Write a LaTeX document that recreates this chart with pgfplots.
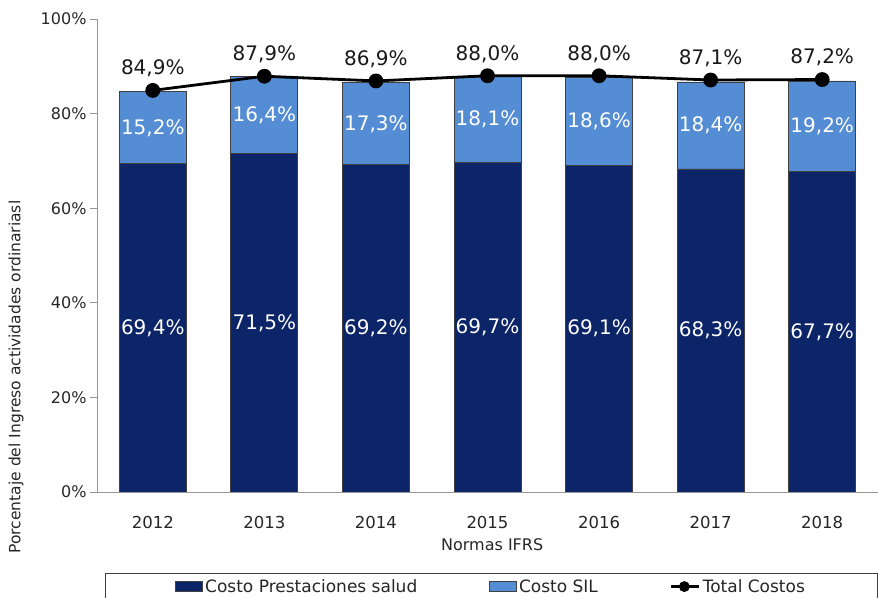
\documentclass[border=0pt]{standalone}
\usepackage{fontspec}
\setmainfont{DejaVu Sans}
\usepackage{pgfplots}
\usepackage{pgfplotstable}
\pgfplotsset{compat=1.18}
\definecolor{darkbar}{RGB}{12,36,104}
\definecolor{lightbar}{RGB}{84,141,212}
\definecolor{axgray}{RGB}{150,150,150}
\pgfplotstableread{
x p s t
0 69.4 15.2 84.9
1 71.5 16.4 87.9
2 69.2 17.3 86.9
3 69.7 18.1 88.0
4 69.1 18.6 88.0
5 68.3 18.4 87.1
6 67.7 19.2 87.2
}\datatable
\pgfplotsset{
  /pgf/number format/assume math mode=true,
  common/.style={scale only axis, width=781pt, height=473pt,
    at={(97pt,105pt)}, anchor=south west,
    xmin=-0.5, xmax=6.5, ymin=0, ymax=100},
  pctlabel/.style={nodes near coords={\pgfmathprintnumber[fixed,fixed zerofill,precision=1,use comma]{\pgfplotspointmeta}\%},
    point meta=explicit},
  barlegend/.style={legend image code/.code={\draw[##1] (0pt,-5pt) rectangle (27pt,5pt);}},
  linelegend/.style={legend image code/.code={\draw[black, line width=2.8pt] (0pt,0pt) -- (28pt,0pt); \fill[black] (13pt,0pt) circle (5pt);}},
}
\begin{document}
\begin{tikzpicture}
\path[use as bounding box] (0,0) rectangle (878pt,597pt);
\begin{axis}[common,
  ybar stacked, bar width=67pt,
  axis x line*=bottom, axis y line*=left,
  axis line style={axgray, line width=0.8pt},
  ytick={0,20,...,100},
  yticklabel={\pgfmathprintnumber{\tick}\%},
  y tick label style={font=\fontsize{16}{18}\selectfont, color=black!85},
  ytick style={draw=axgray, line width=0.8pt},
  tick align=outside, major tick length=7pt,
  xtick={0,...,6},
  xticklabels={2012,2013,2014,2015,2016,2017,2018},
  xtick style={draw=none},
  x tick label style={font=\fontsize{16.5}{18}\selectfont, color=black!85, anchor=center, yshift=-23pt},
  extra x ticks={0.5,1.5,2.5,3.5,4.5,5.5},
  extra x tick labels={},
  extra x tick style={major tick length=33pt, tick style={draw=axgray, line width=0.8pt}},
  xlabel={Normas IFRS},
  xlabel style={at={(axis description cs:0.506,0)}, anchor=center, yshift=-53pt, font=\fontsize{16}{18}\selectfont, color=black!85},
  ylabel={Porcentaje del Ingreso actividades ordinariasl},
  ylabel style={at={(axis description cs:-0.1037,0.243)}, anchor=center, font=\fontsize{15.5}{17}\selectfont, color=black!85},
  legend style={at={(axis description cs:0.01024,-0.1712)}, anchor=north west,
    legend columns=3, draw=black!75, line width=0.8pt,
    font=\fontsize{17}{19}\selectfont, text=black!85,
    inner xsep=70pt, inner ysep=4pt,
    /tikz/every even column/.append style={column sep=70pt}},
  legend cell align=left,
]
\addplot[fill=darkbar, draw=black!75, line width=0.8pt, barlegend]
  table[x=x, y=p]{\datatable};
\addlegendentry{Costo Prestaciones salud}
\addplot[fill=lightbar, draw=black!75, line width=0.8pt, barlegend]
  table[x=x, y=s]{\datatable};
\addlegendentry{Costo SIL}
\addlegendimage{linelegend}
\addlegendentry{Total Costos}
\draw[axgray, line width=0.8pt] (rel axis cs:0,0) -- ++(0pt,-63pt);
\end{axis}
\begin{axis}[common, hide axis]
\addplot[black, line width=2.8pt, mark=*, mark size=6pt, pctlabel,
  every node near coord/.append style={font=\fontsize{20}{22}\selectfont, text=black!90, anchor=center, yshift=22pt}]
  table[x=x, y=t, meta=t]{\datatable};
\addplot[draw=none, mark=none, pctlabel,
  every node near coord/.append style={font=\fontsize{20}{22}\selectfont, text=white, anchor=center}]
  table[x=x, y expr=\thisrow{p}/2, meta=p]{\datatable};
\addplot[draw=none, mark=none, pctlabel,
  every node near coord/.append style={font=\fontsize{20}{22}\selectfont, text=white, anchor=center}]
  table[x=x, y expr=\thisrow{p}+\thisrow{s}/2, meta=s]{\datatable};
\end{axis}
\end{tikzpicture}
\end{document}
